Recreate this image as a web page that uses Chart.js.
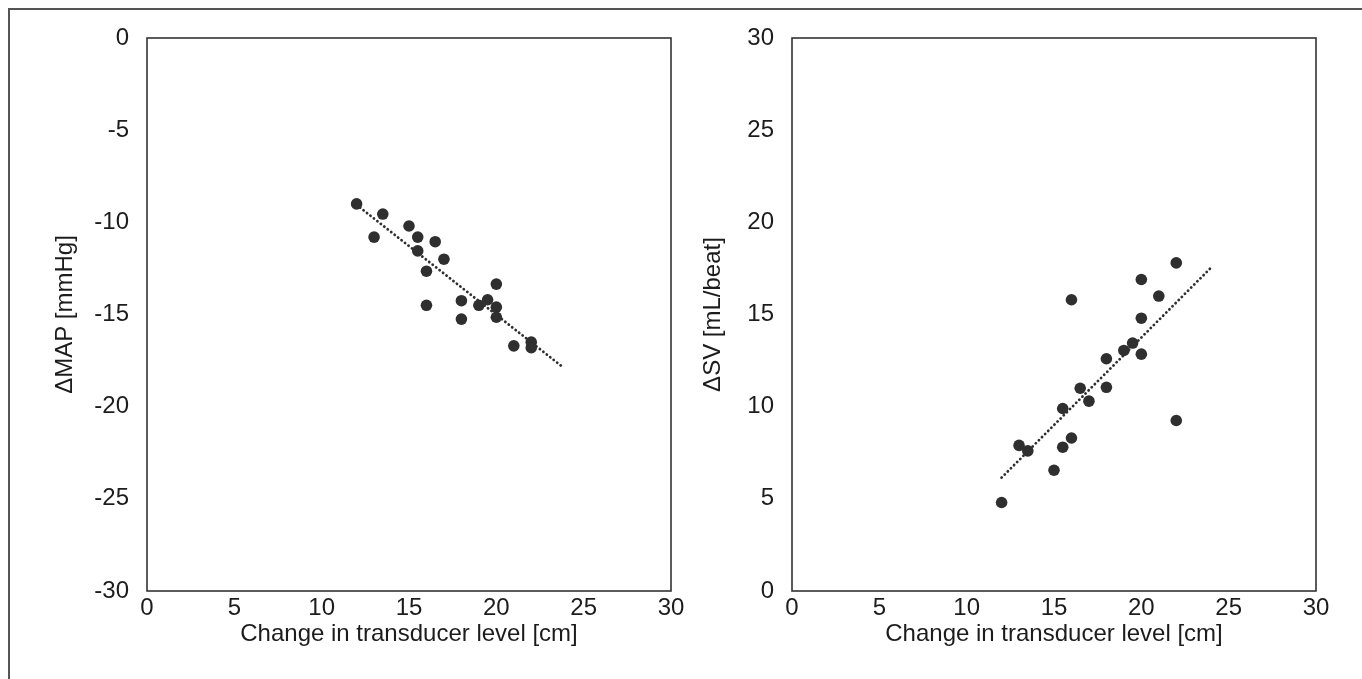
<!DOCTYPE html>
<html>
<head>
<meta charset="utf-8">
<script src="https://cdn.jsdelivr.net/npm/chart.js@4"></script>
<style>
  html, body { margin: 0; padding: 0; background: #fff; width: 1362px; height: 679px; overflow: hidden; }
  #frame { position: absolute; left: 8px; top: 8px; width: 1400px; height: 720px; border: 2px solid #555; box-sizing: border-box; }
  .box { position: absolute; top: 0; height: 679px; }
  #leftBox { left: 0; width: 690px; }
  #rightBox { left: 690px; width: 672px; }
</style>
</head>
<body>
<div id="frame"></div>
<div class="box" id="leftBox"><canvas id="c1"></canvas></div>
<div class="box" id="rightBox"><canvas id="c2"></canvas></div>
<script>
// ---- data ----
const xTicks = [0, 5, 10, 15, 20, 25, 30];
const yTicksMAP = [-30, -25, -20, -15, -10, -5, 0];
const yTicksSV = [0, 5, 10, 15, 20, 25, 30];

const levelMAP = [12, 13.5, 13, 15, 15.5, 16.5, 15.5, 17, 16, 20, 16, 18, 19, 19.5, 20, 18, 20, 21, 22, 22];
const deltaMAP = [-9.0, -9.55, -10.8, -10.2, -10.8, -11.05, -11.55, -12.0, -12.65, -13.35, -14.5, -14.25, -14.5, -14.2, -14.6, -15.25, -15.15, -16.7, -16.5, -16.8];
const trendLevelMAP = [12, 23.8];
const trendMAP = [-9.05, -17.85];

const levelSV = [22, 20, 16, 21, 20, 19.5, 19, 20, 18, 18, 16.5, 17, 15.5, 22, 16, 15.5, 13, 13.5, 15, 12];
const deltaSV = [17.8, 16.9, 15.8, 16.0, 14.8, 13.45, 13.05, 12.85, 12.6, 11.05, 11.0, 10.3, 9.9, 9.25, 8.3, 7.8, 7.9, 7.6, 6.55, 4.8];
const trendLevelSV = [12, 24];
const trendSV = [6.15, 17.55];

const xTitle = 'Change in transducer level [cm]';
const yTitleMAP = '\u0394MAP [mmHg]';
const yTitleSV = '\u0394SV [mL/beat]';

// ---- styling ----
const FONT = '"Liberation Sans", Arial, Helvetica, sans-serif';
const FS = 24;
const TXT = '#1c1c1c';
const MARK = '#2f2f2f';

const boxPlugin = {
  id: 'plotBox',
  afterDraw(chart) {
    const a = chart.chartArea, ctx = chart.ctx;
    ctx.save();
    ctx.strokeStyle = '#333';
    ctx.lineWidth = 1.6;
    ctx.strokeRect(a.left, a.top, a.right - a.left, a.bottom - a.top);
    ctx.restore();
  }
};

function pts(xs, ys) { return xs.map((x, i) => ({ x: x, y: ys[i] })); }

function makeChart(id, xs, ys, txs, tys, yMin, yMax, yTickVals, yTitle, cfg) {
  return new Chart(document.getElementById(id), {
    type: 'scatter',
    data: {
      datasets: [
        {
          data: pts(xs, ys),
          backgroundColor: MARK,
          borderColor: MARK,
          pointRadius: 5.8,
          pointBorderWidth: 0,
          order: 1
        },
        {
          data: pts(txs, tys),
          showLine: true,
          borderColor: MARK,
          borderWidth: 2.8,
          borderDash: [0.1, 4.3],
          borderCapStyle: 'round',
          pointRadius: 0,
          fill: false,
          order: 2
        }
      ]
    },
    options: {
      responsive: true,
      maintainAspectRatio: false,
      animation: false,
      events: [],
      layout: { padding: { left: 0, top: 38, right: cfg.padRight, bottom: 0 } },
      plugins: { legend: { display: false }, tooltip: { enabled: false } },
      scales: {
        x: {
          type: 'linear',
          min: xTicks[0], max: xTicks[xTicks.length - 1],
          afterBuildTicks(s) { s.ticks = xTicks.map(v => ({ value: v })); },
          afterFit(s) { s.height = 88; },
          grid: { display: false, drawTicks: false },
          border: { display: false },
          ticks: { padding: 3, color: TXT, font: { family: FONT, size: FS }, maxRotation: 0 },
          title: { display: true, text: xTitle, color: TXT, font: { family: FONT, size: FS }, padding: { top: 0, bottom: 30 } }
        },
        y: {
          type: 'linear',
          min: yMin, max: yMax,
          afterBuildTicks(s) { s.ticks = yTickVals.map(v => ({ value: v })); },
          afterFit(s) { s.width = cfg.yWidth; },
          grid: { display: false, drawTicks: false },
          border: { display: false },
          ticks: { padding: 18, color: TXT, font: { family: FONT, size: FS } },
          title: { display: true, text: yTitle, color: TXT, font: { family: FONT, size: FS }, padding: { top: cfg.yTitlePad, bottom: 0 } }
        }
      }
    },
    plugins: [boxPlugin]
  });
}

makeChart('c1', levelMAP, deltaMAP, trendLevelMAP, trendMAP, -30, 0, yTicksMAP, yTitleMAP,
  { padRight: 19, yWidth: 147, yTitlePad: 51 });
makeChart('c2', levelSV, deltaSV, trendLevelSV, trendSV, 0, 30, yTicksSV, yTitleSV,
  { padRight: 46, yWidth: 102, yTitlePad: 9 });
</script>
</body>
</html>
